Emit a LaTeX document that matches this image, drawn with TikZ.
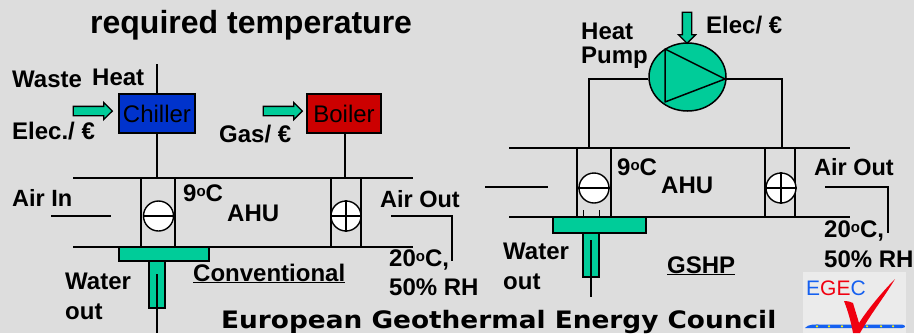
\documentclass[tikz,border=0pt]{standalone}
\usepackage{fontspec}
\setmainfont{Liberation Sans}
\newfontfamily\widefont{DejaVu Sans}
\usetikzlibrary{shapes.geometric,shapes.arrows}
\definecolor{bgc}{HTML}{DDDDDD}
\definecolor{grn}{HTML}{00CC99}
\definecolor{chl}{HTML}{0033CC}
\definecolor{blr}{HTML}{CC0000}
\definecolor{logob}{HTML}{1560F0}
\definecolor{logor}{HTML}{F00010}
\newcommand{\degs}{\raisebox{5pt}{\fontsize{15}{15}\selectfont o}}
\tikzset{
 x=1pt,y=-1pt,
 pipe/.style={draw=black,line width=1.5pt},
 lbl/.style={inner sep=0pt,anchor=base west,font=\fontsize{24}{24}\selectfont\bfseries},
 lbls/.style={lbl,font=\fontsize{23.5}{24}\selectfont\bfseries},
 unit/.style={draw=black,line width=1.5pt,minimum height=39pt,inner sep=0pt,font=\fontsize{24}{24}\selectfont},
 valve/.style={circle,draw=black,fill=white,line width=1.4pt,minimum size=30pt,inner sep=0pt},
 bar/.style={rectangle,draw=black,fill=grn,line width=1.5pt,inner sep=0pt},
 inarrow/.style={single arrow,draw=black,fill=grn,line width=1.3pt,inner sep=4pt,minimum height=39pt,minimum width=17pt,single arrow head extend=4pt,single arrow tip angle=90},
}
\begin{document}
\begin{tikzpicture}
\useasboundingbox (0,0) rectangle (914,333);
\fill[bgc] (0,0) rectangle (914,333);
% left system
\node[lbl,font=\fontsize{32}{32}\selectfont\bfseries] (title) at (90,33) {required temperature};
\node[unit,fill=chl,minimum width=76pt] (chiller) at (157,113.5) {Chiller};
\node[unit,fill=blr,minimum width=74pt] (boiler) at (344,113.5) {Boiler};
\node[inarrow] (a1) at (90.5,111) {};
\node[inarrow] (a2) at (280.5,111) {};
\coordinate (ct) at (157,64); \coordinate (cb) at (157,178);
\coordinate (bt) at (345,133); \coordinate (bb) at (345,178);
\draw[pipe] (ct)--(chiller.north);
\draw[pipe] (chiller.south)--(cb);
\draw[pipe] (bt)--(bb);
\coordinate (lt0) at (73,178); \coordinate (lt1) at (413,178);
\coordinate (lb0) at (73,247); \coordinate (lb1) at (413,247);
\draw[pipe] (lt0)--(lt1); \draw[pipe] (lb0)--(lb1);
\foreach \xx in {141,175,331,361}{\draw[pipe] (\xx,178)--(\xx,247);}
\node[valve] (v1) at (158.5,216) {};
\node[valve] (v2) at (346,216) {};
\draw[pipe] (v1.west)--(v1.east);
\draw[pipe] (v2.west)--(v2.east); \draw[pipe] (v2.north)--(v2.south);
\coordinate (ai0) at (51,216); \coordinate (ai1) at (111,216);
\draw[pipe] (ai0)--(ai1);
\coordinate (ao0) at (391,216); \coordinate (ao1) at (452,216); \coordinate (ao2) at (452,261);
\draw[pipe] (ao0)--(ao1)--(ao2);
\node[bar,minimum width=90pt,minimum height=14pt] (b1) at (164,254) {};
\node[bar,minimum width=16pt,minimum height=47pt] (s1) at (157,284.5) {};
\coordinate (w0) at (157,274); \coordinate (w1) at (157,333);
\draw[pipe] (w0)--(w1);
\node[lbl] at (12,87) {Waste};
\node[lbl] at (92,85) {Heat};
\node[lbl] at (12,139) {Elec./ €};
\node[lbl] at (219,142) {Gas/ €};
\node[lbls] at (12,206) {Air In};
\node[lbl] at (183,201) {9\degs C};
\node[lbl] at (227,221) {AHU};
\node[lbls] at (380,207) {Air Out};
\node[lbl] at (65,289) {Water};
\node[lbl] at (65,319) {out};
\node[lbl] (conv) at (193,281) {\underline{Conventional}};
\node[lbl] at (389,266) {20\degs C,};
\node[lbl] at (389,295) {50\% RH};
\node[lbl,font=\fontsize{24}{24}\widefont\bfseries] (eg) at (221,328) {\scalebox{1.098}[1]{European Geothermal Energy Council}};
% right system
\node[ellipse,draw=black,fill=grn,line width=1.5pt,minimum width=77pt,minimum height=68pt,inner sep=0pt] (pump) at (687.5,77) {};
\coordinate (t1) at (665,49); \coordinate (t2) at (725,79); \coordinate (t3) at (665,102);
\draw[line width=1.5pt,line join=round] (t1)--(t2)--(t3)--cycle;
\node[inarrow,shape border rotate=270,minimum height=31pt] (a3) at (687,25.5) {};
\coordinate (pl) at (589,79); \coordinate (pld) at (589,148);
\coordinate (pr) at (782,79); \coordinate (prd) at (782,148);
\draw[pipe] (pump.west |- pl)--(pl)--(pld);
\draw[pipe] (t2)--(pr)--(prd);
\coordinate (rt0) at (509,148); \coordinate (rt1) at (850,148);
\coordinate (rb0) at (509,217); \coordinate (rb1) at (850,217);
\draw[pipe] (rt0)--(rt1); \draw[pipe] (rb0)--(rb1);
\foreach \xx in {577,611,765,795}{\draw[pipe] (\xx,148)--(\xx,217);}
\node[valve] (v3) at (594,188) {};
\node[valve] (v4) at (781,188) {};
\draw[pipe] (v3.west)--(v3.east);
\draw[pipe] (v4.west)--(v4.east); \draw[pipe] (v4.north)--(v4.south);
\draw[line width=0.9pt] (583,210)--(583,217) (599,210)--(599,217);
\coordinate (ri0) at (485,187); \coordinate (ri1) at (548,187);
\draw[pipe] (ri0)--(ri1);
\coordinate (ro0) at (825,187); \coordinate (ro1) at (888,187); \coordinate (ro2) at (888,233);
\draw[pipe] (ro0)--(ro1)--(ro2);
\node[bar,minimum width=93pt,minimum height=16pt] (b2) at (599.5,225) {};
\node[bar,minimum width=16pt,minimum height=44pt] (s2) at (591,255) {};
\coordinate (x0) at (591,240); \coordinate (x1) at (591,297);
\draw[pipe] (x0)--(x1);
\node[lbl] at (581,39) {Heat};
\node[lbl] at (581,63) {Pump};
\node[lbl] at (706,33) {Elec/ €};
\node[lbl] at (617,175) {9\degs C};
\node[lbl] at (661,193) {AHU};
\node[lbls] at (814,175) {Air Out};
\node[lbl] at (503,259) {Water};
\node[lbl] at (503,289) {out};
\node[lbl] (gshp) at (667,273) {\underline{GSHP}};
\node[lbl] at (824,237) {20\degs C,};
\node[lbl] at (824,267) {50\% RH};
% logo
\fill[white!40!bgc] (803,272) rectangle (906,333);
\fill[logob] (805,328) .. controls (808,324) and (815,324.5) .. (820,324.5) -- (902,324.5) .. controls (906,325) and (906,328) .. (902,328) -- cycle;
\foreach \xx in {817,829,842,867,881,893}{\fill[yellow] (\xx,326.3) circle (1.2pt);}
\node[inner sep=0pt,anchor=base west,font=\fontsize{21}{21}\selectfont] (egec) at (806,295) {\textcolor{logob}{E}\textcolor{logor}{GE}\textcolor{logob}{C}};
\fill[logor] (844,301) .. controls (848,301) and (851,302) .. (853,303) .. controls (855,310) and (857,316) .. (859,323) .. controls (870,306) and (886,288) .. (895,279) .. controls (885,296) and (870,315) .. (860,333) -- (853,333) .. controls (851,322) and (848,311) .. (844,301) -- cycle;
\end{tikzpicture}
\end{document}
